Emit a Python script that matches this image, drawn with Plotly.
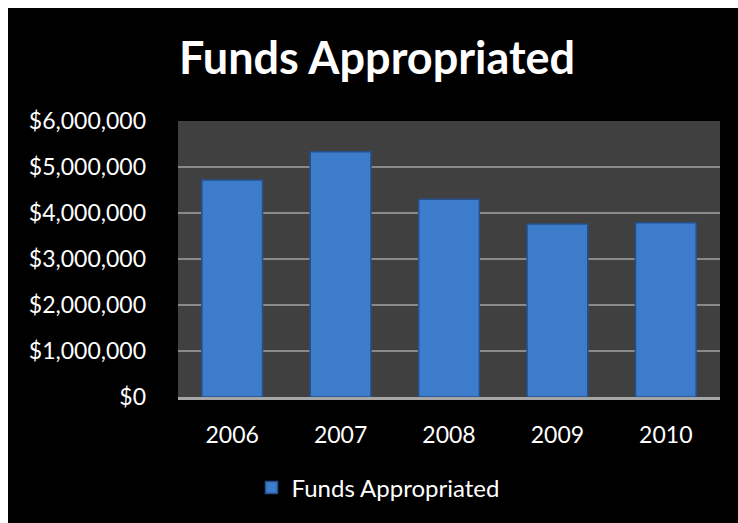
import plotly.graph_objects as go

years = ["2006", "2007", "2008", "2009", "2010"]
funds = [4720000, 5330000, 4300000, 3760000, 3790000]
series_name = "Funds Appropriated"
title_text = "Funds Appropriated"

W, H = 738, 523
L, R, T, B = 178, 18, 121, 126
pw, ph = W - L - R, H - T - B

def px_x(p):
    return (p - L) / pw

def px_y(p):
    return (H - B - p) / ph

fig = go.Figure()
fig.add_trace(go.Bar(
    x=years, y=funds, name=series_name,
    marker=dict(color="#3d7cca", line=dict(color="#24508c", width=1.5)),
    showlegend=True,
))

fig.update_layout(
    width=W, height=H,
    margin=dict(l=L, r=R, t=T, b=B, pad=0),
    paper_bgcolor="white",
    plot_bgcolor="rgba(0,0,0,0)",
    font=dict(family="Lato", color="white", size=23),
    bargap=0.44,
    title=dict(text="<b>" + title_text + "</b>", x=377 / W, xanchor="center",
               y=1 - 58 / H, yanchor="middle", yref="container",
               font=dict(family="Lato", size=45, color="white")),
    showlegend=True,
    legend=dict(orientation="h", x=px_x(378), xanchor="center",
                y=px_y(488), yanchor="middle",
                font=dict(size=24, color="white"), bgcolor="rgba(0,0,0,0)"),
    shapes=[
        dict(type="rect", xref="paper", yref="paper", layer="below",
             x0=px_x(8), x1=px_x(W + 2), y0=px_y(H + 2), y1=px_y(8),
             fillcolor="black", line=dict(width=0)),
        dict(type="rect", xref="paper", yref="paper", layer="below",
             x0=0, x1=1, y0=0, y1=1,
             fillcolor="#404040", line=dict(width=0)),
    ],
)

fig.update_yaxes(range=[0, 6000000], dtick=1000000, tickformat="$,.0f",
                 showgrid=True, gridcolor="#8a8a8a", gridwidth=2,
                 zeroline=False, showline=False,
                 ticks="", ticklabelstandoff=31,
                 tickfont=dict(size=23, color="white"))
fig.update_xaxes(showgrid=False, showline=True, linecolor="#a6a6a6", linewidth=3,
                 ticks="", ticklabelstandoff=15,
                 tickfont=dict(size=23, color="white"))

fig.write_html("out.html")
